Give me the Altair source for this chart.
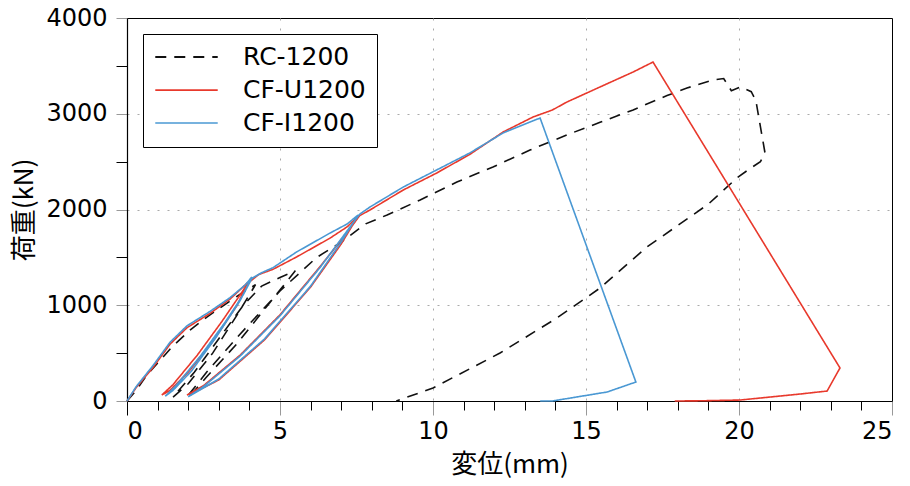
import altair as alt
import pandas as pd

series_names = ["RC-1200", "CF-U1200", "CF-I1200"]
series_colors = ["#111111", "#e8392c", "#4a98d3"]

rc_x = [0, 0.3, 0.65, 1.18, 1.47, 2.06, 2.61, 3.27, 3.76, 4.2,
        3.6, 2.8, 2.0, 1.5,
        2.2, 3.0, 3.8, 4.4, 5.0, 5.5,
        4.6, 3.6, 2.6, 2.1, 1.95,
        2.6, 3.7, 5.0, 6.2, 6.96, 7.8,
        8.5, 9.58, 10.78, 11.96, 13.17, 14.38, 15.46, 16.54, 17.65, 18.3, 19.15, 19.5,
        19.75, 20.05, 20.4, 20.55, 20.85, 20.7, 20.29, 19.93, 19.0, 16.99, 15.46, 14.05,
        12.19, 10.0, 8.8]
rc_y = [0, 110, 272, 460, 564, 741, 877, 1023, 1128, 1215,
        900, 500, 180, 40,
        300, 650, 1000, 1200, 1290, 1360,
        1000, 600, 250, 70, 40,
        300, 700, 1150, 1500, 1650, 1850,
        1943, 2099, 2287, 2444, 2621, 2780, 2910, 3040, 3190, 3269, 3352, 3368,
        3240, 3280, 3230, 3140, 2590, 2500, 2412, 2329, 2057, 1608, 1180, 867,
        501, 136, 0]

cu_x = [0, 0.3, 0.85, 1.41, 1.96, 2.71, 3.37, 3.79, 3.95,
        3.6, 2.8, 2.0, 1.4, 1.14,
        1.5, 2.3, 3.1, 3.7, 3.95,
        4.3, 4.77, 5.54, 6.63, 7.2, 7.55,
        7.0, 6.0, 4.5, 3.0, 2.2, 1.96,
        2.5, 3.7, 5.0, 6.3, 7.2, 7.6,
        7.94, 9.03, 10.12, 11.2, 12.29, 13.27, 13.9, 14.38, 15.46, 16.54, 17.19,
        23.3, 22.88, 22.0, 20.03, 18.7, 17.9]
cu_y = [0, 140, 350, 595, 765, 915, 1065, 1190, 1240,
        1000, 620, 300, 110, 63,
        170, 480, 830, 1110, 1230,
        1320, 1375, 1504, 1700, 1820, 1930,
        1640, 1190, 640, 220, 90, 63,
        160, 480, 900, 1400, 1760, 1935,
        1995, 2204, 2381, 2575, 2809, 2966, 3039, 3123, 3280, 3436, 3540,
        345, 104, 73, 10, 2, 0]

ci_x = [0, 0.3, 0.85, 1.41, 1.96, 2.71, 3.37, 3.86, 4.08,
        3.7, 2.9, 2.1, 1.5, 1.25,
        1.6, 2.4, 3.2, 3.8, 4.08,
        4.4, 4.77, 5.54, 6.63, 7.2, 7.55,
        7.0, 6.0, 4.5, 3.0, 2.2, 2.0,
        2.5, 3.7, 5.0, 6.3, 7.2, 7.6,
        7.94, 9.03, 10.12, 11.2, 12.29, 13.17, 13.5,
        16.63, 15.69, 13.9, 13.5]
ci_y = [0, 150, 370, 615, 785, 935, 1080, 1211, 1295,
        1050, 660, 310, 110, 50,
        160, 470, 820, 1110, 1280,
        1340, 1392, 1556, 1753, 1850, 1942,
        1660, 1200, 650, 230, 80, 45,
        150, 470, 890, 1390, 1780, 1950,
        2026, 2235, 2413, 2590, 2799, 2914, 2955,
        198, 94, 0, 0]

rows = []
for name, xs, ys in [(series_names[0], rc_x, rc_y),
                     (series_names[1], cu_x, cu_y),
                     (series_names[2], ci_x, ci_y)]:
    for i, (x, y) in enumerate(zip(xs, ys)):
        rows.append({"series": name, "x": x, "y": y, "order": i})
df = pd.DataFrame(rows)

x_ticks = list(range(0, 26))
y_ticks = list(range(0, 4001, 500))

x_axis = alt.Axis(
    values=x_ticks,
    labelExpr="datum.value % 5 === 0 ? datum.label : ''",
    tickColor={"condition": {"test": "datum.value % 5 === 0 && datum.value > 0", "value": "#999999"}, "value": "black"},
    tickSize={"condition": {"test": "datum.value % 5 === 0", "value": 14}, "value": 9},
    gridOpacity={"condition": {"test": "datum.value % 5 === 0 && datum.value > 0 && datum.value < 25", "value": 1}, "value": 0},
    title="変位(mm)",
    titlePadding=8,
    labelPadding=4,
)
y_axis = alt.Axis(
    values=y_ticks,
    format="d",
    labelExpr="datum.value % 1000 === 0 ? datum.label : ''",
    tickColor={"condition": {"test": "datum.value % 1000 === 0", "value": "#999999"}, "value": "black"},
    tickSize=11,
    gridOpacity={"condition": {"test": "datum.value % 1000 === 0 && datum.value > 0 && datum.value < 4000", "value": 1}, "value": 0},
    title="荷重(kN)",
    titlePadding=8,
    labelPadding=9,
)

chart = alt.Chart(df).mark_line(strokeWidth=1.6).encode(
    x=alt.X("x:Q", scale=alt.Scale(domain=[0, 25], nice=False, zero=False), axis=x_axis),
    y=alt.Y("y:Q", scale=alt.Scale(domain=[0, 4000], nice=False), axis=y_axis),
    color=alt.Color("series:N", scale=alt.Scale(domain=series_names, range=series_colors),
                    legend=alt.Legend(title=None)),
    strokeDash=alt.StrokeDash("series:N",
                              scale=alt.Scale(domain=series_names, range=[[11, 8], [1, 0], [1, 0]]),
                              legend=alt.Legend(title=None)),
    strokeWidth=alt.StrokeWidth("series:N",
                                scale=alt.Scale(domain=series_names, range=[1.9, 1.6, 1.6]),
                                legend=None),
    order="order:Q",
    detail="series:N",
).properties(
    width=765,
    height=383,
    autosize=alt.AutoSizeParams(type="none"),
    padding={"left": 127, "top": 18, "right": 18, "bottom": 85},
).configure_view(
    stroke="black", strokeWidth=1,
).configure_axis(
    domainColor="black",
    domainWidth=1.2,
    labelFont="DejaVu Sans",
    labelFontSize=24,
    labelColor="black",
    titleFont="Noto Sans CJK JP",
    titleFontSize=26,
    titleFontWeight="normal",
    titleColor="black",
    gridColor="#aaaaaa",
    gridDash=[2, 8],
    gridWidth=1,
).configure_legend(
    orient="none",
    legendX=16,
    legendY=16,
    strokeColor="black",
    fillColor="white",
    padding=11,
    labelFont="DejaVu Sans",
    labelFontSize=25,
    labelColor="black",
    symbolType="stroke",
    symbolSize=3900,
    symbolStrokeWidth=1.8,
    labelOffset=24,
    rowPadding=8,
    clipHeight=24,
    labelLimit=300,
)

chart.save("out.html", embed_options={"renderer": "svg", "actions": False})
